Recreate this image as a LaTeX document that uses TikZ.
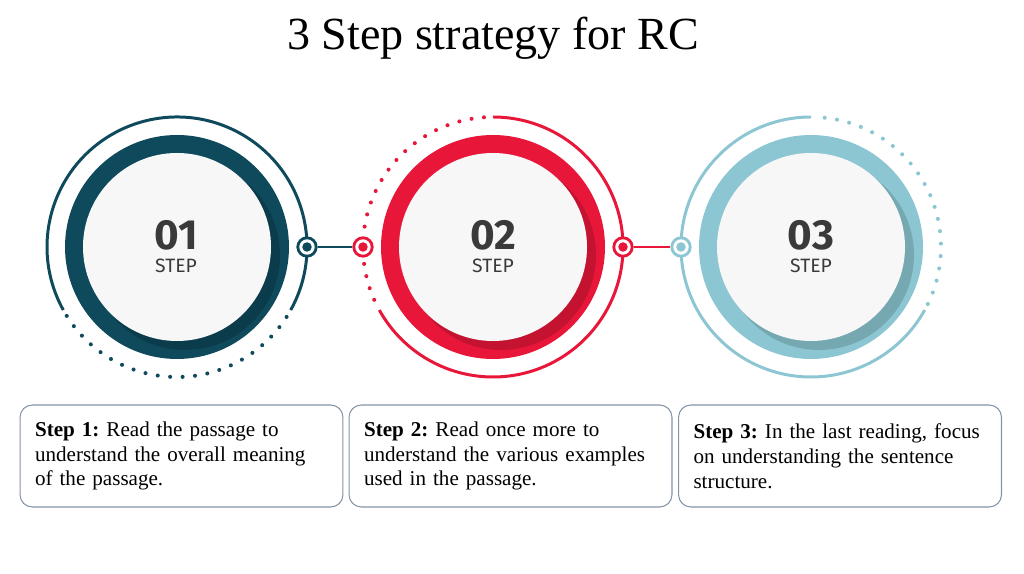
\documentclass[tikz,border=0pt]{standalone}
\usepackage{fontspec}
\setmainfont{Liberation Serif}
\newfontfamily\numfont{Fira Sans}
\definecolor{stepteal}{HTML}{0E4A5C}
\definecolor{stepred}{HTML}{E8173A}
\definecolor{steplight}{HTML}{8CC6D2}
\definecolor{boxline}{HTML}{8494A8}
\definecolor{numgray}{HTML}{3A3A3A}

\begin{document}
\frenchspacing
\begin{tikzpicture}[x=0.02cm, y=0.02cm,
  ring/.style={line width=1.7pt, draw=#1},
  dots/.style={line width=2.3pt, draw=#1, line cap=round, dash pattern=on 0pt off 7.1pt},
  joint/.style={circle, draw=#1, line width=1.6pt, fill=white, minimum size=10.5pt, inner sep=0pt,
    path picture={\fill[#1] (path picture bounding box.center) circle (2.7pt);}},
  infobox/.style={draw=boxline, line width=0.6pt, rounded corners=7pt, text width=5.86cm,
    inner xsep=0.3cm, minimum height=2.04cm, align=left, font=\fontsize{12}{14.2}\selectfont},
  bignum/.style={font=\numfont\bfseries\fontsize{24}{24}\selectfont, text=numgray, inner sep=0pt},
  steplbl/.style={font=\numfont\fontsize{11}{11}\selectfont, text=numgray, inner sep=0pt}]
  \useasboundingbox (0,0) rectangle (1024,574);

  % Title
  \node (title) at (493,536) {\fontsize{26.2}{26.2}\selectfont 3 Step strategy for RC};

  % Centres of the three discs
  \coordinate (c1) at (177,327);
  \coordinate (c2) at (493,327);
  \coordinate (c3) at (811,327);

  % Step 1 (dark teal)
  \draw[ring=stepteal] (c1) ++(-29:130) arc[start angle=-29, end angle=209, radius=130];
  \draw[dots=stepteal] (c1) ++(212:130) arc[start angle=212, end angle=331, radius=130];
  \fill[stepteal] (c1) circle (112);
  \fill[stepteal!70!black, opacity=0.6] (c1) ++(8,-8) circle (95);
  \fill[black!3] (c1) circle (94);
  \node[bignum] (n1) at (176,339) {01};
  \node[steplbl] (s1) at (176,308) {STEP};

  % Step 2 (red)
  \draw[ring=stepred] (c2) ++(90:130) arc[start angle=90, end angle=-151, radius=130];
  \draw[dots=stepred] (c2) ++(94:130) arc[start angle=94, end angle=206, radius=130];
  \fill[stepred] (c2) circle (112);
  \fill[stepred!70!black, opacity=0.5] (c2) ++(8,-8) circle (95);
  \fill[black!3] (c2) circle (94);
  \node[bignum] (n2) at (493,339) {02};
  \node[steplbl] (s2) at (493,308) {STEP};

  % Step 3 (light teal)
  \draw[ring=steplight] (c3) ++(90:130) arc[start angle=90, end angle=331, radius=130];
  \draw[dots=steplight] (c3) ++(-26:130) arc[start angle=-26, end angle=86, radius=130];
  \fill[steplight] (c3) circle (112);
  \fill[steplight!70!black, opacity=0.5] (c3) ++(8,-8) circle (95);
  \fill[black!3] (c3) circle (94);
  \node[bignum] (n3) at (811,339) {03};
  \node[steplbl] (s3) at (811,308) {STEP};

  % Joints and links
  \node[joint=stepteal] (p1r) at (307,327) {};
  \node[joint=stepred] (p2l) at (363,327) {};
  \node[joint=stepred] (p2r) at (623,327) {};
  \node[joint=steplight] (p3l) at (681,327) {};
  \draw[stepteal, line width=1.6pt] (p1r) -- (p2l);
  \draw[stepred, line width=1.6pt] (p2r) -- (p3l);

  % Text boxes
  \node[infobox] (b1) at (181.5,118) {\textbf{Step 1:} Read the passage to\\understand the overall meaning\\of the passage.};
  \node[infobox] (b2) at (510.5,118) {\textbf{Step 2:} Read once more to\\understand the various examples\\used in the passage.};
  \node[infobox] (b3) at (840,118) {\textbf{Step 3:} In the last reading, focus\\on understanding the sentence\\structure.};
\end{tikzpicture}
\end{document}
